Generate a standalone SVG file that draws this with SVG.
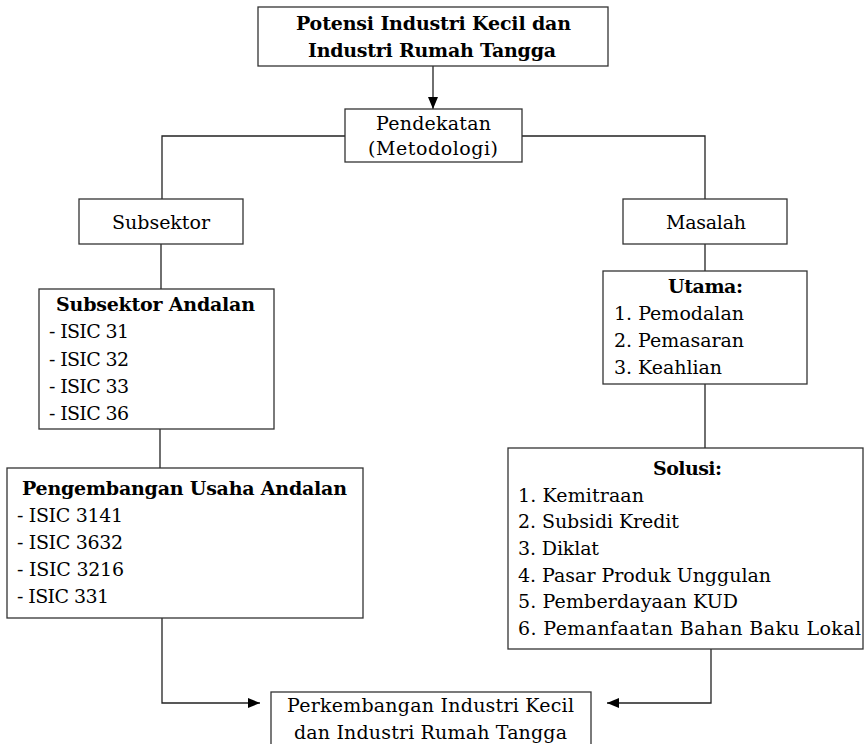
<svg xmlns="http://www.w3.org/2000/svg" width="866" height="744" viewBox="0 0 866 744">
  <style>
    .box { fill: #ffffff; stroke: #333333; stroke-width: 1.3; }
    .wire { fill: none; stroke: #222222; stroke-width: 1.3; }
    text { font-family: "DejaVu Serif", "Liberation Serif", serif; font-size: 19px; fill: #000000; }
    .b { font-weight: bold; }
    .c { text-anchor: middle; }
  </style>
  <defs>
    <marker id="arrow" viewBox="0 0 12 10" refX="12" refY="5" markerWidth="12" markerHeight="10" markerUnits="userSpaceOnUse" orient="auto">
      <path d="M0,0 L12,5 L0,10 Z" fill="#000000"/>
    </marker>
  </defs>

  <!-- connectors -->
  <g id="connectors">
    <path class="wire" d="M433,66 V109" marker-end="url(#arrow)"/>
    <path class="wire" d="M345,136 H162 V199"/>
    <path class="wire" d="M522,136 H705 V199"/>
    <path class="wire" d="M161,244 V289"/>
    <path class="wire" d="M160,429 V468"/>
    <path class="wire" d="M705,244 V271"/>
    <path class="wire" d="M705,384 V448"/>
    <path class="wire" d="M162,618 V703 H260" marker-end="url(#arrow)"/>
    <path class="wire" d="M711,649 V703 H607" marker-end="url(#arrow)"/>
  </g>

  <g id="potensi">
    <rect class="box" x="258" y="7" width="350" height="59"/>
    <text class="b c" x="433.5" y="30" textLength="275">Potensi Industri Kecil dan</text>
    <text class="b c" x="432" y="57" textLength="248">Industri Rumah Tangga</text>
  </g>

  <g id="pendekatan">
    <rect class="box" x="345" y="109" width="177" height="53"/>
    <text class="c" x="433.5" y="130" textLength="115">Pendekatan</text>
    <text class="c" x="433" y="155" textLength="130">(Metodologi)</text>
  </g>

  <g id="subsektor">
    <rect class="box" x="79" y="199" width="164" height="45"/>
    <text class="c" x="161" y="229" textLength="98">Subsektor</text>
  </g>

  <g id="masalah">
    <rect class="box" x="623" y="199" width="164" height="45"/>
    <text class="c" x="706" y="229" textLength="80">Masalah</text>
  </g>

  <g id="subsektor-andalan">
    <rect class="box" x="39" y="289" width="235" height="140"/>
    <text class="b c" x="155.5" y="311" textLength="199">Subsektor Andalan</text>
    <text x="49" y="338" textLength="80">- ISIC 31</text>
    <text x="49" y="366" textLength="80">- ISIC 32</text>
    <text x="49" y="393" textLength="80">- ISIC 33</text>
    <text x="49" y="420" textLength="80">- ISIC 36</text>
  </g>

  <g id="utama">
    <rect class="box" x="603" y="271" width="204" height="113"/>
    <text class="b c" x="705.5" y="293" textLength="75">Utama:</text>
    <text x="614" y="320" textLength="130">1. Pemodalan</text>
    <text x="614" y="347" textLength="130">2. Pemasaran</text>
    <text x="614" y="374" textLength="108">3. Keahlian</text>
  </g>

  <g id="pengembangan">
    <rect class="box" x="7" y="468" width="356" height="150"/>
    <text class="b c" x="184.5" y="495" textLength="325">Pengembangan Usaha Andalan</text>
    <text x="17" y="522" textLength="106">- ISIC 3141</text>
    <text x="17" y="549" textLength="106">- ISIC 3632</text>
    <text x="17" y="576" textLength="107">- ISIC 3216</text>
    <text x="17" y="603" textLength="92">- ISIC 331</text>
  </g>

  <g id="solusi">
    <rect class="box" x="508" y="448" width="355" height="201"/>
    <text class="b c" x="687.5" y="475" textLength="69">Solusi:</text>
    <text x="518" y="502" textLength="126">1. Kemitraan</text>
    <text x="518" y="528" textLength="161">2. Subsidi Kredit</text>
    <text x="518" y="555" textLength="81">3. Diklat</text>
    <text x="518" y="582" textLength="253">4. Pasar Produk Unggulan</text>
    <text x="518" y="608" textLength="220">5. Pemberdayaan KUD</text>
    <text x="518" y="635" textLength="343">6. Pemanfaatan Bahan Baku Lokal</text>
  </g>

  <g id="perkembangan">
    <rect class="box" x="271" y="692" width="320" height="60"/>
    <text class="c" x="430.5" y="712" textLength="287">Perkembangan Industri Kecil</text>
    <text class="c" x="430.5" y="739" textLength="273">dan Industri Rumah Tangga</text>
  </g>
</svg>
